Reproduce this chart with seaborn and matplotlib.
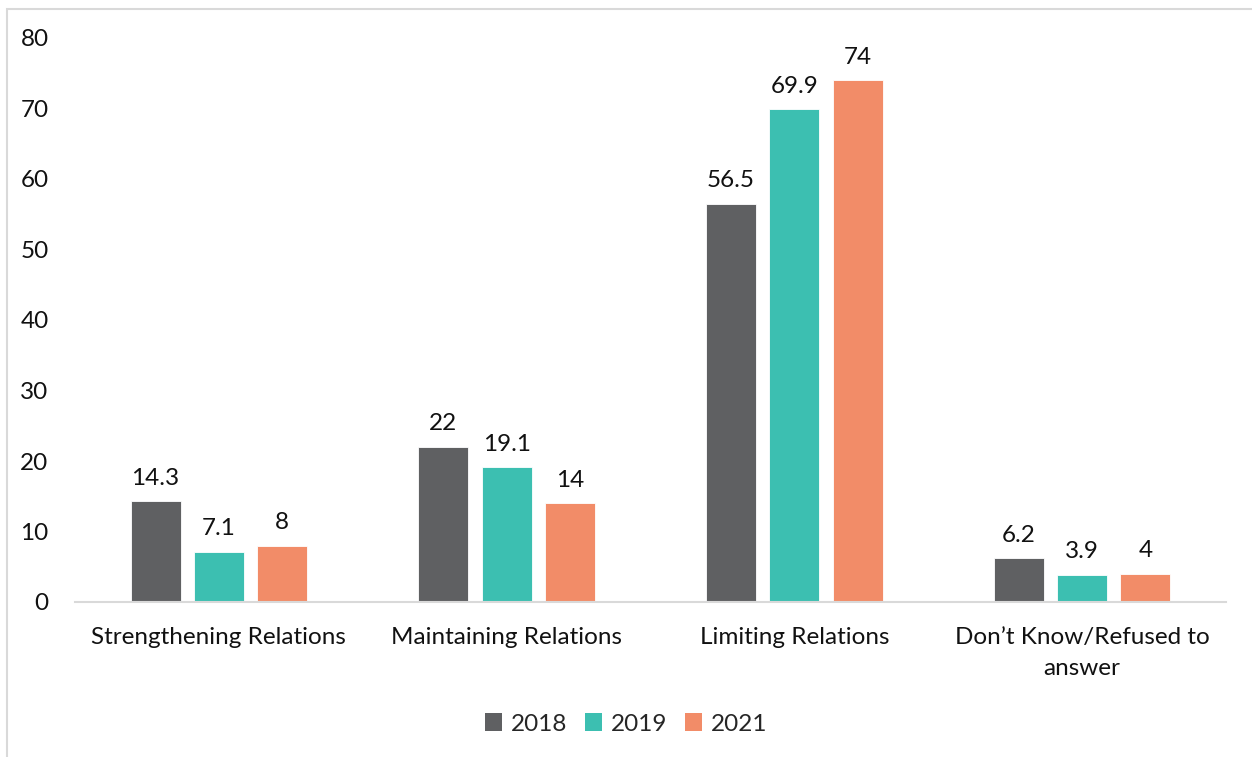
import matplotlib
matplotlib.use("Agg")
import matplotlib.pyplot as plt
import seaborn as sns
import pandas as pd
from matplotlib.patches import Rectangle, Patch

categories = ["Strengthening Relations", "Maintaining Relations", "Limiting Relations",
              "Don\u2019t Know/Refused to\nanswer"]
years = ["2018", "2019", "2021"]
values_2018 = [14.3, 22, 56.5, 6.2]
values_2019 = [7.1, 19.1, 69.9, 3.9]
values_2021 = [8, 14, 74, 4]
colors = ["#5f6062", "#3cbfb1", "#f28c68"]

rows = []
for yr, vals in zip(years, [values_2018, values_2019, values_2021]):
    for c, v in zip(categories, vals):
        rows.append({"category": c, "year": yr, "value": v})
df = pd.DataFrame(rows)

sns.set_theme(style="white")
plt.rcParams["font.family"] = ["Lato", "DejaVu Sans"]
FS = 17.5

fig = plt.figure(figsize=(12.52, 7.57), dpi=100)
ax = fig.add_axes([75 / 1252, 1 - 602 / 757, (1226 - 75) / 1252, (602 - 38) / 757])

sns.barplot(data=df, x="category", y="value", hue="year", palette=colors,
            width=0.66, gap=0.21, ax=ax, legend=False, saturation=1,
            edgecolor="white", linewidth=0.6)

for cont in ax.containers:
    labels = [f"{v:g}" for v in cont.datavalues]
    ax.bar_label(cont, labels=labels, padding=9, fontsize=FS, color="#111111")

ax.set_ylim(0, 80)
ax.set_yticks(range(0, 81, 10))
ax.set_xlim(-0.5, 3.5)
ax.set_xlabel("")
ax.set_ylabel("")
for s in ["top", "right", "left"]:
    ax.spines[s].set_visible(False)
ax.spines["bottom"].set_color("#d9d9d9")
ax.spines["bottom"].set_linewidth(1.5)
ax.tick_params(axis="both", length=0, labelsize=FS, colors="#111111")
ax.tick_params(axis="y", pad=19)
ax.tick_params(axis="x", pad=18)
for lbl in ax.get_xticklabels():
    lbl.set_linespacing(1.6)

handles = [Patch(facecolor=c, edgecolor="none", label=y) for c, y in zip(colors, years)]
fig.legend(handles=handles, loc="center", bbox_to_anchor=(0.5, 1 - 724 / 757), ncol=3,
           frameon=False, fontsize=FS, handlelength=0.7, handleheight=0.7,
           handletextpad=0.35, columnspacing=0.75)

# outer chart frame
fig.patches.append(Rectangle((7 / 1252, -0.1), 1.2, 1 - 9 / 757 + 0.1,
                             transform=fig.transFigure, fill=False,
                             edgecolor="#d9d9d9", linewidth=1.5))

fig.savefig("out.png", dpi=100)
